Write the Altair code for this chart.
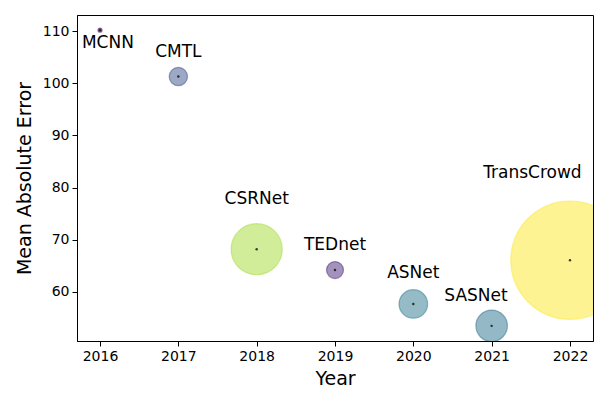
import altair as alt
import pandas as pd

models = ["MCNN", "CMTL", "CSRNet", "TEDnet", "ASNet", "SASNet", "TransCrowd"]
years = [2016, 2017, 2018, 2019, 2020, 2021, 2022]
mae = [110.2, 101.3, 68.2, 64.2, 57.7, 53.5, 66.1]
params = [0.10, 2.1, 16.3, 1.8, 5.1, 6.2, 87.3]
colors = ["#440154", "#3b528b", "#a5db36", "#482677", "#2a788e", "#2c728e", "#fde725"]
label_x = [2016.1, 2017, 2018, 2019, 2020, 2020.8, 2021.52]
label_y = [107.7, 106.0, 77.8, 69.0, 63.6, 59.2, 82.8]

df = pd.DataFrame({
    "model": models, "year": years, "mae": mae, "params": params,
    "color": colors, "lx": label_x, "ly": label_y,
})

FONT = "DejaVu Sans"
xscale = alt.Scale(domain=[2015.706, 2022.294], nice=False, zero=False)
yscale = alt.Scale(domain=[50.6, 113.1], nice=False, zero=False)

xaxis = alt.Axis(title="Year", values=years, format="d", grid=False,
                 labelFontSize=14, titleFontSize=19, tickSize=5,
                 labelPadding=3, titlePadding=6, domainColor="black",
                 tickColor="black", labelColor="black", titleColor="black",
                 labelFont=FONT, titleFont=FONT, titleFontWeight="normal")
yaxis = alt.Axis(title="Mean Absolute Error", values=[60, 70, 80, 90, 100, 110],
                 grid=False, labelFontSize=14, titleFontSize=19, tickSize=5,
                 labelPadding=3, titlePadding=8, domainColor="black",
                 tickColor="black", labelColor="black", titleColor="black",
                 labelFont=FONT, titleFont=FONT, titleFontWeight="normal")

base = alt.Chart(df)

bubbles = base.mark_circle(clip=True, fillOpacity=0.5, strokeOpacity=0.5,
                           strokeWidth=1.2, opacity=1).encode(
    x=alt.X("year:Q", scale=xscale, axis=xaxis),
    y=alt.Y("mae:Q", scale=yscale, axis=yaxis),
    size=alt.Size("params:Q", scale=alt.Scale(domain=[0, 100], range=[0, 16030]), legend=None),
    fill=alt.Fill("color:N", scale=None),
    stroke=alt.Stroke("color:N", scale=None),
)

dots = base.mark_circle(clip=True, size=6, color="black", opacity=0.75).encode(
    x=alt.X("year:Q", scale=xscale),
    y=alt.Y("mae:Q", scale=yscale),
)

labels = base.mark_text(font=FONT, fontSize=17, baseline="middle", align="center",
                        color="black").encode(
    x=alt.X("lx:Q", scale=xscale),
    y=alt.Y("ly:Q", scale=yscale),
    text="model:N",
)

chart = (bubbles + dots + labels).properties(
    width=516, height=326,
    autosize=alt.AutoSizeParams(type="none"),
    padding={"left": 69, "top": 7, "right": 8, "bottom": 57},
).configure_view(stroke="black", strokeWidth=1)

chart.save("out.html", embed_options={"renderer": "svg", "actions": False})
